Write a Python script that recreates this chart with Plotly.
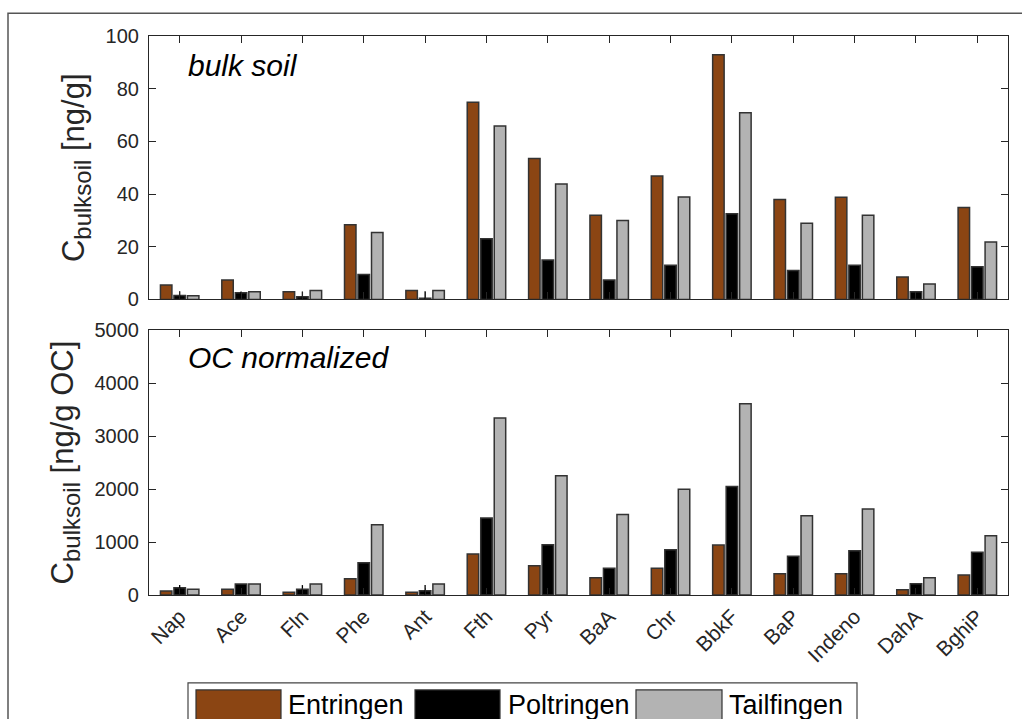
import plotly.graph_objects as go

categories = ["Nap", "Ace", "Fln", "Phe", "Ant", "Fth", "Pyr", "BaA", "Chr", "BbkF", "BaP", "Indeno", "DahA", "BghiP"]
series_names = ["Entringen", "Poltringen", "Tailfingen"]

bulk_entringen = [5.5, 7.4, 2.9, 28.4, 3.4, 74.9, 53.5, 32.0, 46.9, 92.9, 37.9, 38.8, 8.5, 34.9]
bulk_poltringen = [1.5, 2.5, 1.0, 9.5, 0.5, 23.0, 15.0, 7.4, 13.0, 32.5, 11.0, 13.0, 2.9, 12.4]
bulk_tailfingen = [1.4, 2.9, 3.4, 25.4, 3.4, 65.8, 43.8, 30.0, 38.9, 70.9, 28.9, 32.0, 5.9, 21.8]
bulk_poltringen_err = [1.6, 0.5, 2.0, 0, 2.6, 0, 0, 0, 0, 0, 0, 0, 0, 0]

oc_entringen = [75, 107, 50, 308, 50, 774, 553, 327, 503, 943, 403, 403, 101, 377]
oc_poltringen = [138, 208, 107, 610, 82, 1453, 950, 503, 856, 2050, 730, 836, 214, 805]
oc_tailfingen = [107, 208, 208, 1327, 208, 3340, 2252, 1522, 1994, 3610, 1497, 1623, 327, 1119]
oc_poltringen_err = [50, 0, 80, 0, 107, 0, 0, 0, 0, 0, 0, 0, 0, 0]

colors = ["#8B4513", "#000000", "#B3B3B3"]
edge = "#333333"
axis_col = "#262626"
FONT = "Liberation Sans, Arial"

W, H = 1022, 719
L, R, T, B = 149, 1008, 35.7, 595
pw, ph = R - L, B - T


def px(x):
    return (x - L) / pw


def py(y):
    return (B - y) / ph


fig = go.Figure()

top_sets = [bulk_entringen, bulk_poltringen, bulk_tailfingen]
bot_sets = [oc_entringen, oc_poltringen, oc_tailfingen]
for i, name in enumerate(series_names):
    err_t = dict(type="data", array=bulk_poltringen_err, visible=True, color="black", thickness=1.3, width=0) if i == 1 else None
    err_b = dict(type="data", array=oc_poltringen_err, visible=True, color="black", thickness=1.3, width=0) if i == 1 else None
    fig.add_trace(go.Bar(x=categories, y=top_sets[i], name=name, marker=dict(color=colors[i], line=dict(color=edge, width=1.5)),
                         error_y=err_t, xaxis="x", yaxis="y", showlegend=False))
    fig.add_trace(go.Bar(x=categories, y=bot_sets[i], name=name, marker=dict(color=colors[i], line=dict(color=edge, width=1.5)),
                         error_y=err_b, xaxis="x2", yaxis="y2", showlegend=False))

top_dom = [py(299.3), 1]
bot_dom = [0, py(330)]

axis_common = dict(showline=True, linecolor=axis_col, linewidth=1.2, mirror="ticks", ticks="inside",
                   tickcolor=axis_col, ticklen=7, tickwidth=1.2, showgrid=False, zeroline=False,
                   tickfont=dict(family=FONT, size=20, color=axis_col))

title_font = dict(family=FONT, size=31, color=axis_col)
SUB = "<sub><span style='font-size:24px'>bulksoil</span></sub>"

fig.update_layout(
    width=W, height=H,
    margin=dict(l=L, r=W - R, t=T, b=H - B),
    paper_bgcolor="white", plot_bgcolor="white",
    barmode="group", bargap=0.34, bargroupgap=0.15,
    showlegend=False,
    xaxis=dict(domain=[0, 1], anchor="y", showticklabels=False, range=[-0.5, 13.5], **axis_common),
    xaxis2=dict(domain=[0, 1], anchor="y2", tickangle=-45, range=[-0.5, 13.5], **axis_common),
    yaxis=dict(domain=top_dom, anchor="x", range=[0, 100], dtick=20, ticklabelstandoff=5,
               title=dict(text="C" + SUB + " [ng/g]", font=title_font, standoff=11),
               **axis_common),
    yaxis2=dict(domain=bot_dom, anchor="x2", range=[0, 5000], dtick=1000, ticklabelstandoff=5,
                title=dict(text="C" + SUB + " [ng/g OC]", font=title_font, standoff=11),
                **axis_common),
)
fig.update_xaxes(tickfont=dict(family=FONT, size=21, color=axis_col), selector=dict(anchor="y2"))

annotations = [
    dict(text="<i>bulk soil</i>", x=px(186), y=py(65), xref="paper", yref="paper", xanchor="left", yanchor="middle",
         showarrow=False, font=dict(family=FONT, size=30, color="black")),
    dict(text="<i>OC normalized</i>", x=px(186), y=py(357), xref="paper", yref="paper", xanchor="left", yanchor="middle",
         showarrow=False, font=dict(family=FONT, size=30, color="black")),
]

shapes = [
    dict(type="rect", xref="paper", yref="paper", x0=px(8), x1=px(1030), y0=py(730), y1=py(13),
         line=dict(color="#555555", width=1.5), fillcolor="rgba(0,0,0,0)", layer="below"),
    dict(type="rect", xref="paper", yref="paper", x0=px(188), x1=px(857), y0=py(730), y1=py(683),
         line=dict(color="#444444", width=1.2), fillcolor="white"),
]

sw = [(196, 281), (415, 500), (636, 722)]
tx = [286, 506, 727]
for i, name in enumerate(series_names):
    shapes.append(dict(type="rect", xref="paper", yref="paper", x0=px(sw[i][0]), x1=px(sw[i][1]),
                       y0=py(730), y1=py(690), line=dict(color=edge, width=1.2), fillcolor=colors[i]))
    annotations.append(dict(text=name, x=px(tx[i]), y=py(705), xref="paper", yref="paper", xanchor="left",
                            yanchor="middle", showarrow=False,
                            font=dict(family=FONT, size=27, color="black")))

fig.update_layout(shapes=shapes, annotations=annotations)

fig.write_html("out.html")
